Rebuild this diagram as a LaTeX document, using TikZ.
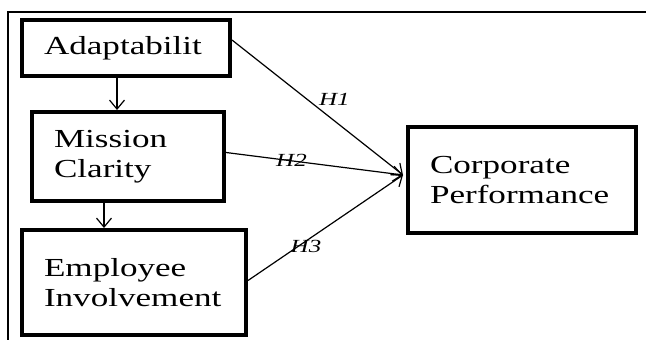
\documentclass[tikz,border=0pt]{standalone}
\usepackage{fontspec}
\setmainfont{Liberation Serif}[FakeStretch=1.35]
\usetikzlibrary{arrows.meta}
\newcommand{\boxfont}{\fontsize{26}{30}\selectfont}
\newcommand{\hypfont}{\itshape\fontsize{18.5}{18.5}\selectfont}

\begin{document}
\begin{tikzpicture}[x=1pt,y=-1pt]
		\tikzstyle{construct}=[draw,line width=4pt,inner xsep=22pt,inner ysep=0pt,align=left,font=\boxfont]
		\tikzstyle{path}=[line width=1.2pt,-{Straight Barb[length=9pt,width=15pt,line width=1.2pt]}]
		\tikzstyle{hyp}=[font=\hypfont,inner sep=1pt]
		\useasboundingbox (0,0) rectangle (646,340);
		% outer frame
		\draw[line width=1.3pt] (8,340) -- (8,12) -- (646,12);
		% constructs
		\node[construct,minimum width=208pt,minimum height=56pt,text width=164pt] (adapt) at (126,48) {Adaptabilit};
		\node[construct,minimum width=192pt,minimum height=89pt,text width=148pt] (mission) at (128,156.5) {Mission\\Clarity};
		\node[construct,minimum width=224pt,minimum height=105pt,text width=180pt] (involve) at (134,282.5) {Employee\\Involvement};
		\node[construct,minimum width=228pt,minimum height=106pt,text width=184pt] (perf) at (522,180) {Corporate\\Performance};
		\coordinate (meet) at ([xshift=-3pt,yshift=5pt]perf.west);
		% links between the traits
		\draw[path] ([xshift=-9pt]adapt.south) -- ([xshift=-9pt]adapt.south |- mission.north);
		\draw[path] ([xshift=-24pt]mission.south) -- ([xshift=-24pt]mission.south |- involve.north);
		% hypotheses
		\draw[path] ([yshift=8pt]adapt.east) -- node[hyp,pos=0.5,anchor=south west] {H1} (meet);
		\draw[path] ([yshift=4pt]mission.east) -- node[hyp,pos=0.37] {H2} (meet);
		\draw[path] ([yshift=2pt]involve.east) -- node[hyp,pos=0.4,anchor=north,xshift=-4pt] {H3} (meet);
\end{tikzpicture}
\end{document}
